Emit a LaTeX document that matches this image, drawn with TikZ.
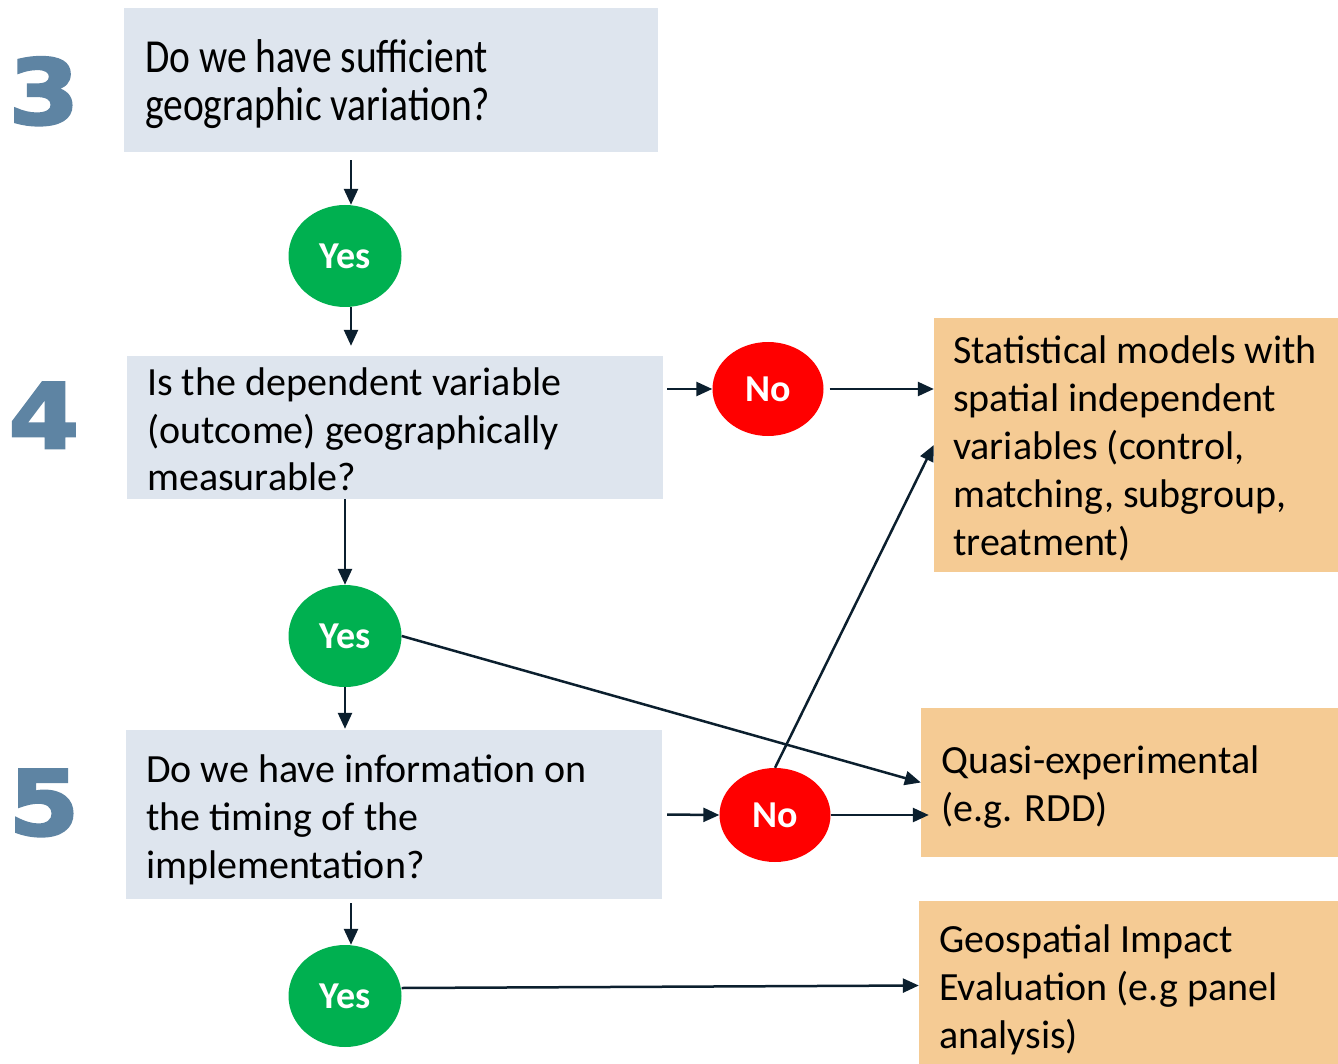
\documentclass[tikz,border=0pt]{standalone}
\usepackage{fontspec}
\setmainfont{Carlito}
\newfontfamily\numfont[BoldFeatures={FakeBold=3}]{DejaVu Sans}
\usetikzlibrary{shapes.geometric,arrows.meta}
\definecolor{qblue}{HTML}{DEE5EE}
\definecolor{aorange}{HTML}{F5CB94}
\definecolor{ygreen}{HTML}{00B050}
\definecolor{nred}{HTML}{FF0000}
\definecolor{navy}{HTML}{0B1F2E}
\definecolor{numcol}{HTML}{5E84A3}
\begin{document}
\begin{tikzpicture}[x=1pt,y=-1pt,
  qbox/.style={rectangle, fill=qblue, inner sep=0pt},
  abox/.style={rectangle, fill=aorange, inner sep=0pt},
  txt/.style={inner sep=0pt, anchor=base west, font=\fontsize{40}{48}\selectfont},
  yesnode/.style={ellipse, fill=ygreen, minimum width=113pt, minimum height=102pt, inner sep=0pt, text=white, font=\fontsize{38}{40}\selectfont\bfseries},
  nonode/.style={ellipse, fill=nred, minimum width=111pt, minimum height=94pt, inner sep=0pt, text=white, font=\fontsize{38}{40}\selectfont\bfseries},
  num/.style={inner sep=0pt, anchor=base, text=numcol, font=\numfont\bfseries\fontsize{90}{90}\selectfont},
  arr/.style={draw=navy, line width=2.5pt, -{Triangle[length=16pt,width=14pt]}}]
\useasboundingbox (0,0) rectangle (1338,1064);
\fill[white] (0,0) rectangle (1338,1064);

% question boxes
\node[qbox, minimum width=534pt, minimum height=144pt] (q3) at (391,80) {};
\node[qbox, minimum width=536pt, minimum height=143pt] (q4) at (395,427.5) {};
\node[qbox, minimum width=536pt, minimum height=169pt] (q5) at (394,814.5) {};
% answer boxes
\node[abox, minimum width=404pt, minimum height=254pt] (stat) at (1136,445) {};
\node[abox, minimum width=417pt, minimum height=149pt] (quasi) at (1129.5,782.5) {};
\node[abox, minimum width=419pt, minimum height=163pt] (geo) at (1128.5,982.5) {};

% texts
\node[txt] (t3) at (145,73) {\scalebox{1}[1.2]{\fontsize{39.5}{40}\selectfont\begin{tabular}[t]{@{}l@{}}Do we have sufficient\\geographic variation?\end{tabular}}};
\node[txt] (t4) at (147,395) {\begin{tabular}[t]{@{}l@{}}Is the dependent variable\\(outcome) geographically\\measurable?\end{tabular}};
\node[txt] (t5) at (146,782) {\begin{tabular}[t]{@{}l@{}}Do we have information on\\the timing of the\\implementation?\end{tabular}};
\node[txt] (ts) at (953,363) {\begin{tabular}[t]{@{}l@{}}Statistical models with\\spatial independent\\variables (control,\\matching, subgroup,\\treatment)\end{tabular}};
\node[txt] (tq) at (941,773) {\begin{tabular}[t]{@{}l@{}}Quasi-experimental\\(e.g. RDD)\end{tabular}};
\node[txt] (tg) at (939,952) {\begin{tabular}[t]{@{}l@{}}Geospatial Impact\\Evaluation (e.g panel\\analysis)\end{tabular}};

% numbers
\node[num] (n3) at (44,124) {\scalebox{1.12}[1]{3}};
\node[num] (n4) at (44,448) {\scalebox{1.12}[1]{4}};
\node[num] (n5) at (44,835) {\scalebox{1.12}[1]{5}};

% decision ellipses
\node[yesnode] (y1) at (345,256) {Yes};
\node[yesnode] (y2) at (345,636) {Yes};
\node[yesnode] (y3) at (345,996) {Yes};
\node[nonode] (no1) at (768,389) {No};
\node[nonode] (no2) at (775,815) {No};

\coordinate (ax) at (351,0);

% connectors
\draw[arr, shorten <=8pt] (q3.south -| ax) -- (y1.north -| ax);
\draw[arr, shorten >=10pt] (y1.south -| ax) -- (q4.north -| ax);
\draw[arr] (q4.south -| y2) -- (y2.north);
\draw[arr, shorten >=1pt] (y2.south) -- (y2.south |- q5.north);
\draw[arr, shorten <=4pt] (q5.south -| ax) -- (y3.north -| ax);
\draw[arr, shorten <=4pt] (q4.east |- no1) -- (no1.west);
\draw[arr, shorten <=6pt] (no1.east) -- (stat.west |- no1);
\draw[arr] (y2.east) -- (quasi.west);
\draw[arr] (no2.north) -- (stat.west);
\draw[arr, shorten <=5pt] (q5.east) -- (no2.west);
\draw[arr, shorten >=-8pt] (no2.east) -- (quasi.west |- no2);
\draw[arr] ([yshift=8pt]y3.east) -- ([yshift=-3pt]geo.west);
\end{tikzpicture}
\end{document}
